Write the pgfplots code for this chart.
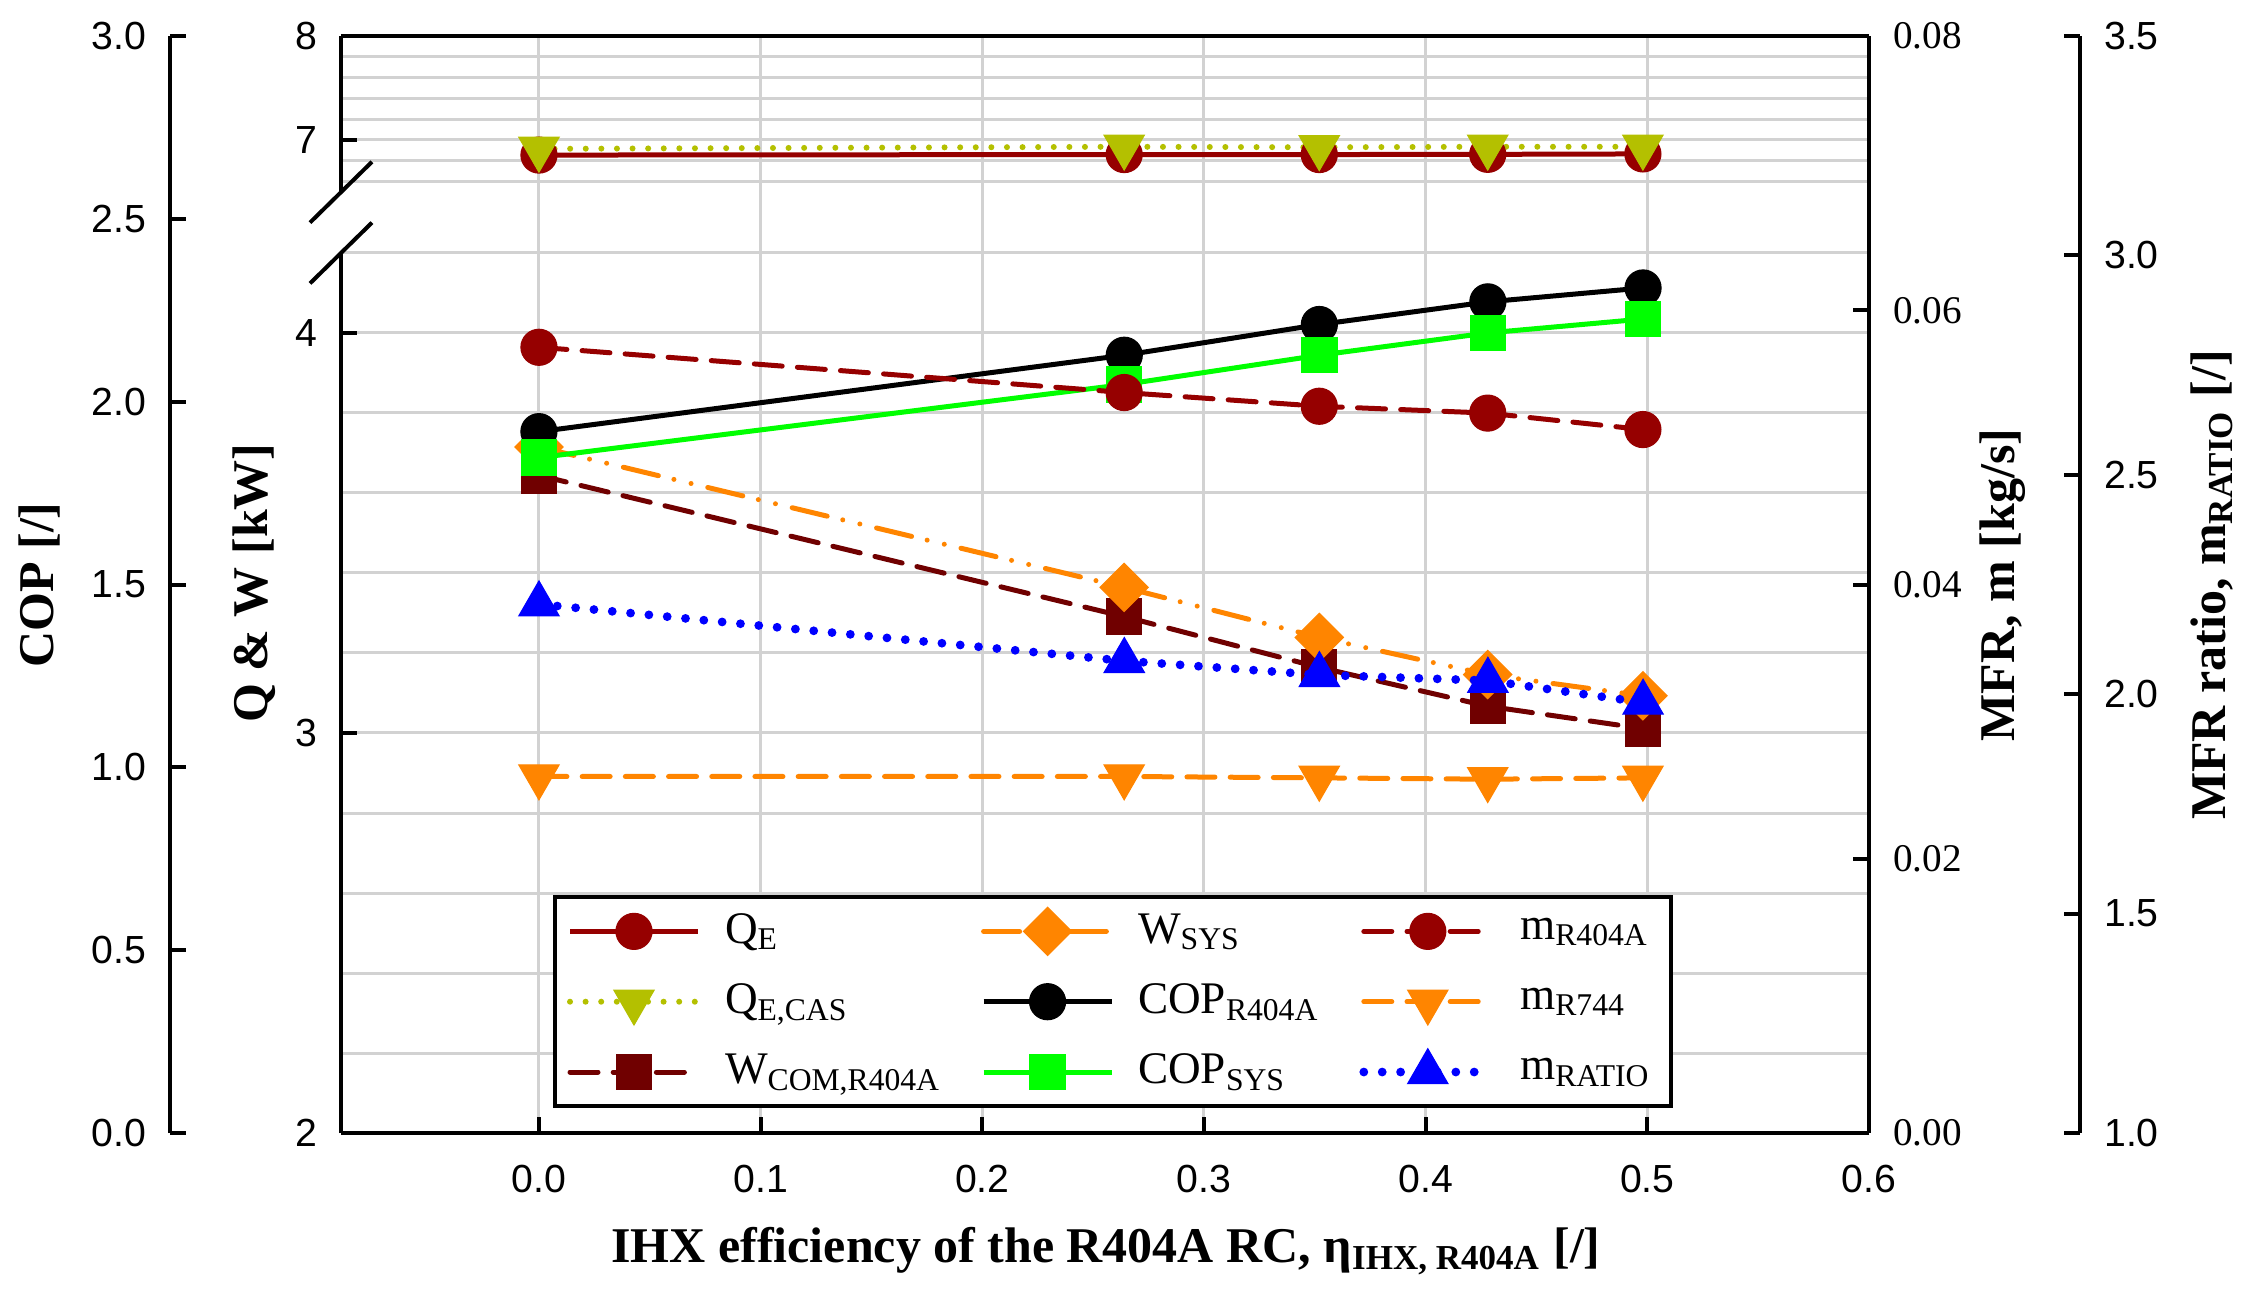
\documentclass[border=0pt]{standalone}
\usepackage{fontspec}
\setmainfont{Liberation Serif}
\newfontfamily\arial{Liberation Sans}
\usepackage{pgfplots}
\pgfplotsset{compat=1.18}

\definecolor{cQ}{RGB}{150,0,0}
\definecolor{cW}{RGB}{112,0,0}
\definecolor{cCAS}{RGB}{180,192,0}
\definecolor{cOr}{RGB}{255,133,0}
\definecolor{cGr}{RGB}{0,255,0}
\definecolor{gridgray}{RGB}{210,210,210}

% 1 px of the reference = 0.25pt
\pgfplotsset{
  base/.style={
    scale only axis, enlargelimits=false, clip=false,
    xmin=-0.0893, xmax=0.6, width=382pt,
    /pgf/number format/assume math mode=true,
    axis line style={line width=1pt},
    major tick length=4pt, minor tick length=0pt,
    tick style={line width=1pt, black},
    major grid style={line width=0.75pt, gridgray},
    minor grid style={line width=0.75pt, gridgray},
    tick label style={font=\arial\fontsize{9.8}{10}\selectfont},
  },
  sQE/.style={cQ, line width=1.25pt, mark=*, mark size=4.5pt, mark options={solid, line width=0.3pt}},
  sCAS/.style={cCAS, line width=1.5pt, line cap=round, dash pattern=on 0pt off 3.9pt,
    mark=triangle*, mark size=5.8pt, mark options={solid, rotate=180, line width=0.3pt}},
  sWC/.style={cW, line width=1.25pt, line cap=round, dash pattern=on 7pt off 3.8pt,
    mark=square*, mark size=4.4pt, mark options={solid, line width=0.3pt}},
  sWS/.style={cOr, line width=1.25pt, line cap=round,
    dash pattern=on 9pt off 4pt on 0pt off 4.4pt on 0pt off 4.3pt,
    mark=square*, mark size=4.25pt, mark options={solid, rotate=45, line width=0.3pt}},
  sCR/.style={black, line width=1.25pt, mark=*, mark size=4.5pt, mark options={solid, line width=0.3pt}},
  sCS/.style={cGr, line width=1.25pt, mark=square*, mark size=4.4pt, mark options={solid, line width=0.3pt}},
  sMR/.style={cQ, line width=1.25pt, line cap=round, dash pattern=on 7pt off 3.8pt,
    mark=*, mark size=4.5pt, mark options={solid, line width=0.3pt}},
  sM7/.style={cOr, line width=1.25pt, line cap=round, dash pattern=on 7pt off 3.8pt,
    mark=triangle*, mark size=5.8pt, mark options={solid, rotate=180, line width=0.3pt}},
  sRT/.style={blue, line width=2.2pt, line cap=round, dash pattern=on 0pt off 4.6pt,
    mark=triangle*, mark size=5.8pt, mark options={solid, line width=0.3pt}},
}

\begin{document}
\begin{tikzpicture}

% vertical grid lines over the full height
\begin{axis}[base, at={(0pt,0pt)}, anchor=south west, height=274.25pt,
  ymin=0, ymax=1, ytick=\empty, xtick={0,0.1,0.2,0.3,0.4,0.5}, xticklabels={},
  major tick length=0pt, xmajorgrids, axis line style={draw=none}]
\end{axis}

% Q & W, lower part (2 to 4.2 kW)
\begin{axis}[base, at={(0pt,0pt)}, anchor=south west, height=220pt,
  ymin=2, ymax=4.2, axis y line*=left, hide x axis,
  ytick={2,3,4}, minor ytick={2.2,2.4,2.6,2.8,3.2,3.4,3.6,3.8,4.2},
  ymajorgrids, yminorgrids, yticklabel style={xshift=-2.5pt}]
\addplot[sWC] coordinates {(0,3.644) (0.264,3.291) (0.352,3.164) (0.428,3.067) (0.498,3.011)};
\addplot[sWS] coordinates {(0,3.715) (0.264,3.364) (0.352,3.239) (0.428,3.146) (0.498,3.093)};
\end{axis}

% Q & W, upper part (6.5 to 8 kW)
\begin{axis}[base, at={(0pt,235.25pt)}, anchor=south west, height=39pt,
  ymin=6.5, ymax=8, axis y line*=left, hide x axis,
  ytick={7,8}, minor ytick={6.6,6.8,7.2,7.4,7.6,7.8},
  ymajorgrids, yminorgrids, yticklabel style={xshift=-2.5pt}]
\addplot[sQE] coordinates {(0,6.855) (0.264,6.86) (0.352,6.86) (0.428,6.862) (0.498,6.866)};
\addplot[sCAS] coordinates {(0,6.915) (0.264,6.935) (0.352,6.93) (0.428,6.935) (0.498,6.935)};
\end{axis}

% COP axis (offset to the left)
\begin{axis}[base, xmin=-0.1664, width=424.8pt, at={(-42.75pt,0pt)}, anchor=south west,
  height=274.25pt, ymin=0, ymax=3, axis y line*=left, hide x axis,
  ytick={0,0.5,1,1.5,2,2.5,3},
  yticklabel style={xshift=-2.5pt, /pgf/number format/fixed,
    /pgf/number format/fixed zerofill, /pgf/number format/precision=1}]
\addplot[sCR] coordinates {(0,1.918) (0.264,2.127) (0.352,2.211) (0.428,2.273) (0.498,2.311)};
\addplot[sCS] coordinates {(0,1.847) (0.264,2.047) (0.352,2.127) (0.428,2.188) (0.498,2.226)};
\end{axis}

% MFR axis, frame and x axis
\begin{axis}[base, at={(0pt,0pt)}, anchor=south west, height=274.25pt,
  ymin=0, ymax=0.08, axis x line*=box, axis y line*=right, xtick pos=left,
  xtick={0,0.1,0.2,0.3,0.4,0.5,0.6}, ytick={0,0.02,0.04,0.06,0.08},
  scaled y ticks=false, scaled x ticks=false,
  xticklabel style={yshift=-4.5pt, /pgf/number format/fixed,
    /pgf/number format/fixed zerofill, /pgf/number format/precision=1},
  yticklabel style={xshift=2.5pt, font=\rmfamily\fontsize{9.8}{10}\selectfont,
    /pgf/number format/fixed, /pgf/number format/fixed zerofill,
    /pgf/number format/precision=2}]
\addplot[sMR] coordinates {(0,0.0573) (0.264,0.0540) (0.352,0.0530) (0.428,0.0525) (0.498,0.0513)};
\addplot[sM7] coordinates {(0,0.0260) (0.264,0.0260) (0.352,0.0259) (0.428,0.0258) (0.498,0.0259)};
\end{axis}

% MFR ratio axis (offset to the right) and legend
\begin{axis}[base, xmax=0.6951, width=434.76pt, at={(0pt,0pt)}, anchor=south west,
  height=274.25pt, ymin=1, ymax=3.5, axis y line*=right, hide x axis,
  ytick={1,1.5,2,2.5,3,3.5},
  yticklabel style={xshift=2.5pt, /pgf/number format/fixed,
    /pgf/number format/fixed zerofill, /pgf/number format/precision=1},
  legend columns=3, legend cell align=left,
  legend image code/.code={\draw[mark repeat=2,mark phase=2,#1]
    plot coordinates {(0pt,0pt) (16pt,0pt) (32pt,0pt)};},
  legend style={at={(0.1219,0.0228)}, anchor=south west, draw=black, line width=1pt,
    font=\rmfamily\fontsize{11.3}{13}\selectfont, fill=white, row sep=4.6pt,
    /tikz/every odd column/.append style={column sep=4pt},
    /tikz/every even column/.append style={column sep=8pt}}]
\addlegendimage{sQE}\addlegendentry{Q\textsubscript{E}}
\addlegendimage{sWS}\addlegendentry{W\textsubscript{SYS}}
\addlegendimage{sMR}\addlegendentry{m\textsubscript{R404A}}
\addlegendimage{sCAS}\addlegendentry{Q\textsubscript{E,CAS}}
\addlegendimage{sCR}\addlegendentry{COP\textsubscript{R404A}}
\addlegendimage{sM7}\addlegendentry{m\textsubscript{R744}}
\addlegendimage{sWC}\addlegendentry{W\textsubscript{COM,R404A}}
\addlegendimage{sCS}\addlegendentry{COP\textsubscript{SYS}}
\addplot[sRT] coordinates {(0,2.205) (0.264,2.076) (0.352,2.044) (0.428,2.031) (0.498,1.981)};
\addlegendentry{m\textsubscript{RATIO}}
\end{axis}

% axis break marks
\draw[line width=1pt] (-7.75pt,227.6pt) -- ++(15.5pt,15.2pt);
\draw[line width=1pt] (-7.75pt,212.4pt) -- ++(15.5pt,15.2pt);

% axis titles
\begin{scope}[font=\rmfamily\bfseries\fontsize{12.5}{14}\selectfont]
\node[rotate=90] at (-75.25pt,137pt) {COP [/]};
\node[rotate=90] at (-21.75pt,137.5pt) {Q \& W [kW]};
\node[rotate=90] at (415.5pt,137pt) {MFR, m [kg/s]};
\node[rotate=90] at (467.8pt,137pt) {MFR ratio, m\textsubscript{RATIO} [/]};
\node[anchor=base] at (191.25pt,-32.25pt) {IHX efficiency of the R404A RC, η\textsubscript{IHX, R404A} [/]};
\end{scope}

\path (-85.25pt,-40.5pt) rectangle (481.5pt,283.25pt);
\end{tikzpicture}
\end{document}
